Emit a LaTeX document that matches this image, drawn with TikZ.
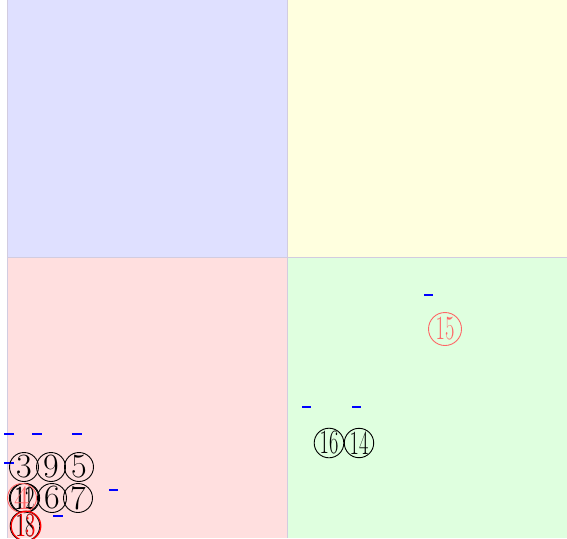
\documentclass[tikz,border=0pt]{standalone}
\usepackage{fontspec}
\usepackage{graphicx}

\definecolor{qblue}{HTML}{DFE0FF}
\definecolor{qyellow}{HTML}{FFFFDF}
\definecolor{qred}{HTML}{FFDFDF}
\definecolor{qgreen}{HTML}{DFFFDF}
\definecolor{qline}{HTML}{D2CCE0}

\newcommand{\twodig}[1]{\scalebox{0.6}[1]{#1}}

\begin{document}
\begin{tikzpicture}[x=1pt, y=-1pt,
  quad/.style={draw=qline, line width=0.6pt},
  cnum/.style={circle, draw, line width=0.9pt, minimum size=29pt, inner sep=0pt,
    font=\fontsize{34}{34}\selectfont},
  tickmark/.style={blue, line width=1.1pt}]

  \useasboundingbox (0,0) rectangle (567,538);

  % 四个象限
  \fill[qblue]   (7,0)     rectangle (287,257);
  \fill[qyellow] (287,0)   rectangle (567,257);
  \fill[qred]    (7,257)   rectangle (287,538);
  \fill[qgreen]  (287,257) rectangle (567,538);
  \draw[quad] (7,0) -- (7,538);
  \draw[quad] (287,0) -- (287,538);
  \draw[quad] (7,257) -- (567,257);

  % 短横线
  \draw[tickmark] (4,434) -- ++(10,0);
  \draw[tickmark] (32,434) -- ++(10,0);
  \draw[tickmark] (72,434) -- ++(10,0);
  \draw[tickmark] (4,463) -- ++(10,0);
  \draw[tickmark] (109,490) -- ++(9,0);
  \draw[tickmark] (53,516) -- ++(10,0);
  \draw[tickmark] (424,295) -- ++(9,0);
  \draw[tickmark] (302,407) -- ++(9,0);
  \draw[tickmark] (352,407) -- ++(9,0);

  % 编号圆圈
  \node[cnum] (n3) at (24,467) {3};
  \node[cnum] (n9) at (51,467) {9};
  \node[cnum] (n5) at (79,467) {5};
  \node[cnum] (n11) at (24,498) {\twodig{11}};
  \node[cnum] (n12) at (25,498) {\twodig{12}};
  \node[cnum] (n6) at (52,498) {6};
  \node[cnum] (n7) at (78,498) {7};
  \node[cnum, draw=red!60, text=red!60] (n4) at (22,498) {4};
  \node[cnum] (n18) at (25,526) {\twodig{18}};
  \node[cnum, draw=red, text=red, line width=1.2pt] (n13) at (26,526) {\twodig{13}};
  \node[cnum] (n16) at (329,443) {\twodig{16}};
  \node[cnum] (n14) at (359,443) {\twodig{14}};
  \node[cnum, draw=red!60, text=red!60, minimum size=33pt] (n15) at (445,329) {\twodig{15}};
\end{tikzpicture}
\end{document}
